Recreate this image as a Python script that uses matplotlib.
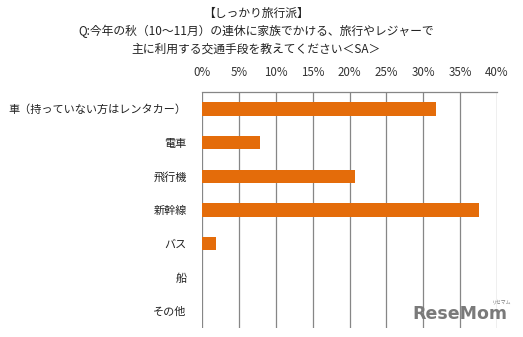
import matplotlib
matplotlib.use("Agg")
import matplotlib.pyplot as plt

plt.rcParams["font.family"] = ["Noto Sans CJK JP", "DejaVu Sans"]

# survey answers, top to bottom
categories = ["車（持っていない方はレンタカー）", "電車", "飛行機", "新幹線", "バス", "船", "その他"]
shares = [31.7, 7.9, 20.7, 37.6, 1.9, 0.0, 0.0]
tick_values = [0, 5, 10, 15, 20, 25, 30, 35, 40]
tick_labels = ["0%", "5%", "10%", "15%", "20%", "25%", "30%", "35%", "40%"]
title_lines = [
    "【しっかり旅行派】",
    "Q:今年の秋（10～11月）の連休に家族でかける、旅行やレジャーで",
    "主に利用する交通手段を教えてください＜SA＞",
]

BAR_COLOR = "#E46C0A"
GRID_COLOR = "#868686"

fig = plt.figure(figsize=(5.23, 3.37), dpi=100)
W, H = 523, 337
ax = fig.add_axes([202 / W, 1 - 328 / H, (497 - 202) / W, (328 - 92) / H])

y = list(range(len(categories)))
ax.barh(y, shares, height=0.4, color=BAR_COLOR, zorder=3)
ax.set_ylim(len(categories) - 0.5, -0.5)
ax.set_xlim(0, 40)

ax.set_xticks(tick_values)
ax.set_xticklabels(tick_labels, fontsize=8.3, color="#333333")
ax.xaxis.tick_top()
ax.tick_params(axis="x", length=0, pad=9)
ax.grid(axis="x", color=GRID_COLOR, linewidth=0.9, zorder=0)

ax.set_yticks(y)
ax.set_yticklabels(categories, fontsize=8, color="#222222")
ax.tick_params(axis="y", length=0, pad=11)

for side in ("left", "right", "bottom"):
    ax.spines[side].set_visible(False)
ax.spines["top"].set_color(GRID_COLOR)
ax.spines["top"].set_linewidth(0.9)

for i, line in enumerate(title_lines):
    fig.text(256 / W, 1 - (13 + 18 * i) / H, line, ha="center", va="center",
             fontsize=8.5, color="#222222")

# site logo
fig.text(460 / W, 1 - 314 / H, "ReseMom", ha="center", va="center",
         fontsize=12.5, fontweight="bold", color="#7a7a7a", family="DejaVu Sans")
fig.text(502 / W, 1 - 302 / H, "リセマム", ha="center", va="center",
         fontsize=3.5, color="#7a7a7a")

fig.savefig("out.png", dpi=100)
